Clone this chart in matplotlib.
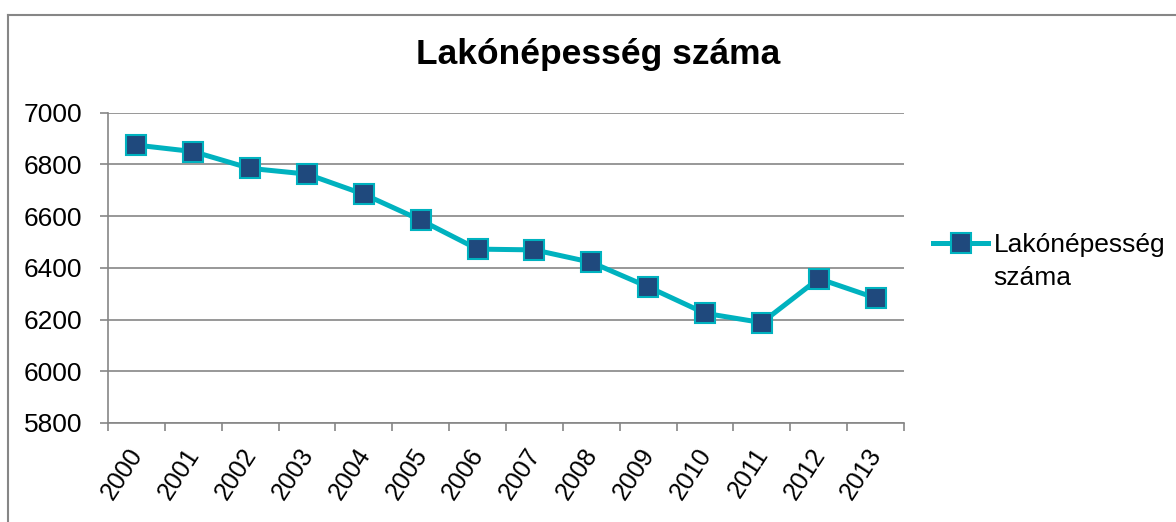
import numpy as np
import matplotlib
matplotlib.use('Agg')
import matplotlib.pyplot as plt
import matplotlib.transforms as mtransforms
from matplotlib.lines import Line2D

plt.rcParams['font.family'] = ['Liberation Sans', 'DejaVu Sans']

years = ['2000', '2001', '2002', '2003', '2004', '2005', '2006',
         '2007', '2008', '2009', '2010', '2011', '2012', '2013']
population = [6874, 6849, 6784, 6762, 6684, 6584, 6472,
              6469, 6421, 6326, 6224, 6188, 6358, 6283]
legend_lines = ['Lakónépesség', 'száma']
title = 'Lakónépesség száma'

W, H = 1176, 522
fig = plt.figure(figsize=(W / 100, H / 100), dpi=100)
ax = fig.add_axes([108 / W, 1 - 423 / H, (904 - 108) / W, (423 - 112.5) / H])

grid_col = '#868686'
x = np.arange(len(years))
ax.plot(x, population, '-s', color='#00B2BF', lw=3.6,
        markersize=14, markerfacecolor='#1F497D', markeredgecolor='#00B2BF',
        markeredgewidth=1.5, label=legend_lines[0], zorder=3)

ax.set_xlim(-0.5, len(years) - 0.5)
ax.set_ylim(5800, 7000)
ax.set_yticks(np.arange(5800, 7001, 200))
ax.yaxis.grid(True, color=grid_col, lw=1.2)
ax.set_axisbelow(True)

# category boundaries as ticks, labels in the middle
ax.set_xticks(np.arange(-0.5, len(years), 1.0))
ax.set_xticklabels([])
ax.set_xticks(x, minor=True)
ax.set_xticklabels(years, minor=True, rotation=57, ha='right', va='top',
                   rotation_mode='anchor', fontsize=18)
ax.tick_params(axis='x', which='minor', length=0, pad=15)
ax.tick_params(axis='x', which='major', length=5.5, color=grid_col, width=1.2)
ax.tick_params(axis='y', length=5.5, color=grid_col, width=1.2, labelsize=19, pad=13)
shift = mtransforms.ScaledTranslation(-9 / 100, 0, fig.dpi_scale_trans)
for lab in ax.get_xticklabels(minor=True):
    lab.set_transform(lab.get_transform() + shift)

for s in ['top', 'right']:
    ax.spines[s].set_visible(False)
for s in ['left', 'bottom']:
    ax.spines[s].set_color(grid_col)
    ax.spines[s].set_linewidth(1.2)

fig.text(598 / W, 1 - 64 / H, title, ha='center', va='baseline',
         fontsize=25.5, fontweight='bold')

leg = ax.legend(loc='center left', bbox_to_anchor=(933 / W, 1 - 245 / H),
                bbox_transform=fig.transFigure, frameon=False, fontsize=19,
                handlelength=2.1, handletextpad=0.2, borderpad=0,
                borderaxespad=0)

# second line of the legend label, under the first one
fig.canvas.draw()
tb = leg.get_texts()[0].get_window_extent()
fig.text(tb.x0 / W, (tb.y0 - 33) / H, legend_lines[1], fontsize=19,
         ha='left', va='bottom')

# outer chart border
fig.add_artist(Line2D([8 / W, 1], [1 - 15 / H, 1 - 15 / H], color=grid_col, lw=1.5))
fig.add_artist(Line2D([8 / W, 8 / W], [0, 1 - 15 / H], color=grid_col, lw=1.5))

fig.savefig('out.png', dpi=100)
